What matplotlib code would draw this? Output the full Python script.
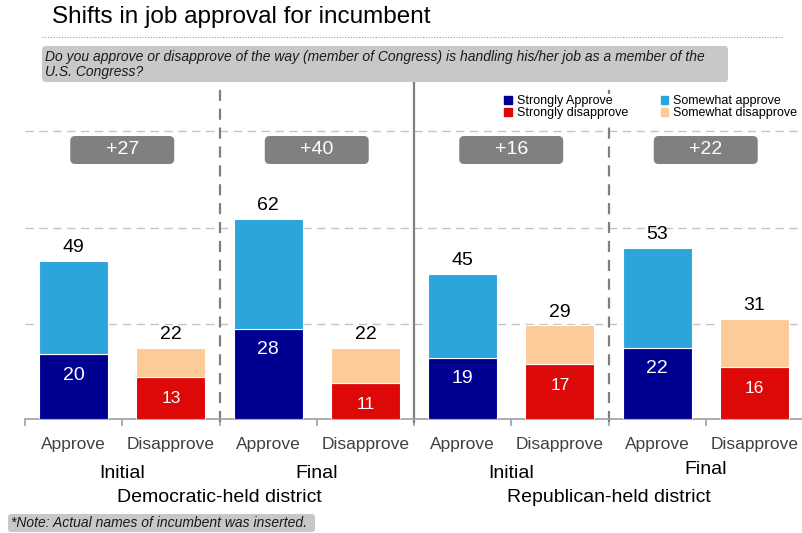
import numpy as np
import matplotlib
matplotlib.use("Agg")
import matplotlib.pyplot as plt
from matplotlib.patches import FancyBboxPatch, Patch
from matplotlib.lines import Line2D

plt.rcParams['font.family'] = ['Liberation Sans', 'DejaVu Sans']

# survey results, one bar per category, in order left to right
categories = ['Approve', 'Disapprove'] * 4
stages = ['Initial', 'Final', 'Initial', 'Final']
districts = ['Democratic-held district', 'Republican-held district']
strong = np.array([20, 13, 28, 11, 19, 17, 22, 16])
total = np.array([49, 22, 62, 22, 45, 29, 53, 31])
somewhat = total - strong

series_names = ['Strongly Approve', 'Strongly disapprove', 'Somewhat approve', 'Somewhat disapprove']
navy, red, blue, peach = '#000090', '#dd0808', '#2ca4dc', '#fdcb99'

W, H = 802, 533
PX_PER_UNIT = 3.23
BASE_PX = 419


def fy(px):
    # figure fraction from a pixel row counted from the top
    return 1 - px / H


def ay(px):
    # axes fraction from a pixel row counted from the top
    return (BASE_PX - px) / (PX_PER_UNIT * 100)


fig = plt.figure(figsize=(W / 100, H / 100), dpi=100)
ax = fig.add_axes([25 / W, fy(BASE_PX), (803 - 25) / W, PX_PER_UNIT * 100 / H])
ax.set_xlim(-0.5, 7.5)
ax.set_ylim(0, 100)

x = np.arange(len(categories))
is_app = np.array([c == 'Approve' for c in categories])
low_colors = np.where(is_app, navy, red)
top_colors = np.where(is_app, blue, peach)

ax.bar(x, strong, width=0.71, color=low_colors, edgecolor='white', linewidth=0.8, zorder=3)
ax.bar(x, somewhat, bottom=strong, width=0.71, color=top_colors, edgecolor='white', linewidth=0.8, zorder=3)

for i in x:
    ax.annotate(str(total[i]), (i, total[i]), xytext=(0, 13), textcoords='offset pixels',
                ha='center', va='center', fontsize=14, color='black', zorder=4)
    ax.annotate(str(strong[i]), (i, strong[i]), xytext=(0, -21), textcoords='offset pixels',
                ha='center', va='center', fontsize=14 if is_app[i] else 12.5, color='white', zorder=4)

# dashed horizontal guides
for gy in [29.4, 59.1, 89.2]:
    ax.axhline(gy, color='#c4c4c4', linewidth=1, linestyle=(0, (6, 4)), zorder=1)

# net approval boxes
for k in range(4):
    cx = 2 * k + 0.5
    net = total[2 * k] - total[2 * k + 1]
    cy = (BASE_PX - 150) / PX_PER_UNIT
    bw, bh = 104 / 97.3, 28 / PX_PER_UNIT
    box = FancyBboxPatch((cx - bw / 2, cy - bh / 2), bw, bh,
                         boxstyle='round,pad=0,rounding_size=0.05',
                         mutation_aspect=97.3 / PX_PER_UNIT,
                         facecolor='#808080', edgecolor='none', zorder=4)
    ax.add_patch(box)
    ax.text(cx, cy, f'+{net}', ha='center', va='center', fontsize=14, color='white', zorder=5)

# separators between stages and districts
y_top = (BASE_PX - 83) / PX_PER_UNIT
y_bot = (BASE_PX - 422) / PX_PER_UNIT
for sx, style in [(1.5, (0, (5, 3.5))), (3.5, '-'), (5.5, (0, (5, 3.5)))]:
    ax.plot([sx, sx], [y_bot, y_top], color='#7f7f7f', linewidth=1.6,
            linestyle=style, clip_on=False, zorder=2)

# x axis
for side in ['top', 'right', 'left']:
    ax.spines[side].set_visible(False)
ax.spines['bottom'].set_color('#a0a0a0')
ax.spines['bottom'].set_linewidth(1.2)
ax.set_yticks([])
ax.set_xticks(x)
ax.set_xticklabels(categories, fontsize=12.5, color='#404040')
ax.tick_params(axis='x', which='major', length=0, pad=13)
ax.set_xticks(np.arange(-0.5, 8, 1), minor=True)
ax.tick_params(axis='x', which='minor', length=5, width=1.2, color='#a0a0a0')

xt = ax.get_xaxis_transform()
stage_rows = [474, 474, 474, 469]
for k, st in enumerate(stages):
    ax.text(2 * k + 0.5, ay(stage_rows[k]), st, transform=xt, ha='center', va='center',
            fontsize=14, color='black')
for k, d in enumerate(districts):
    ax.text(4 * k + 1.5, ay(497), d, transform=xt, ha='center', va='center',
            fontsize=14, color='black')

# legend
handles = [Patch(color=c) for c in [navy, red, blue, peach]]
leg = ax.legend(handles, series_names, ncol=2, loc='upper left',
                bbox_to_anchor=(503 / W, fy(94)), bbox_transform=fig.transFigure,
                fontsize=9, frameon=True, framealpha=1, edgecolor='none',
                handlelength=0.6, handleheight=0.6, handletextpad=0.4,
                labelspacing=0.0, columnspacing=2.6, borderpad=0.1, borderaxespad=0)
leg.set_zorder(6)

# title and question
fig.text(52 / W, fy(17), 'Shifts in job approval for incumbent', fontsize=17.5,
         ha='left', va='center', color='black')
fig.add_artist(Line2D([42 / W, 782 / W], [fy(37), fy(37)], color='#a0a0a0',
                      linewidth=0.8, linestyle=(0, (1, 1.5))))

fig.add_artist(FancyBboxPatch((42 / W, fy(82)), (728 - 42) / W, 36 / H,
                              boxstyle='round,pad=0,rounding_size=0.005',
                              mutation_aspect=W / H, transform=fig.transFigure,
                              facecolor='#c8c8c8', edgecolor='none'))
fig.text(45 / W, fy(57), 'Do you approve or disapprove of the way (member of Congress) is handling his/her job as a member of the',
         fontsize=10, style='italic', ha='left', va='center', color='#1a1a1a')
fig.text(45 / W, fy(72), 'U.S. Congress?', fontsize=10, style='italic',
         ha='left', va='center', color='#1a1a1a')

fig.add_artist(FancyBboxPatch((8 / W, fy(532)), (315 - 8) / W, 18 / H,
                              boxstyle='round,pad=0,rounding_size=0.004',
                              mutation_aspect=W / H, transform=fig.transFigure,
                              facecolor='#c8c8c8', edgecolor='none'))
fig.text(11 / W, fy(523), '*Note: Actual names of incumbent was inserted.', fontsize=10,
         style='italic', ha='left', va='center', color='#1a1a1a')

fig.savefig('out.png', dpi=100)
